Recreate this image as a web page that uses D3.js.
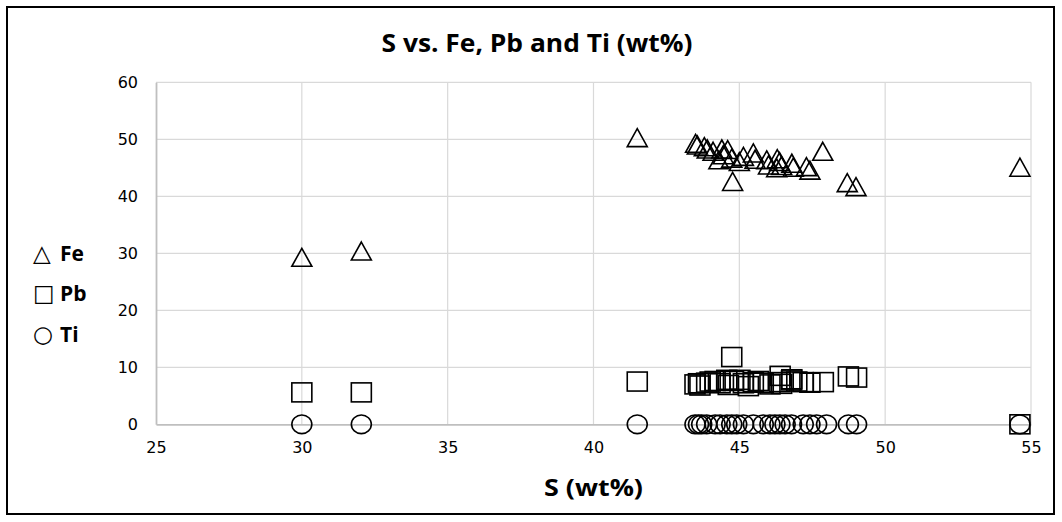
<!DOCTYPE html>
<html>
<head>
<meta charset="utf-8">
<script src="https://cdn.jsdelivr.net/npm/d3@7"></script>
<style>
  html, body { margin: 0; padding: 0; background: #fff; }
  svg { display: block; }
</style>
</head>
<body>
<svg id="chart" width="1062" height="522"></svg>
<script>
// ---- Data ----
const title = "S vs. Fe, Pb and Ti (wt%)";
const xTitle = "S (wt%)";
const xTicks = [25, 30, 35, 40, 45, 50, 55];
const yTicks = [0, 10, 20, 30, 40, 50, 60];

const feS = [30, 32.04, 41.5, 43.5, 43.56, 43.8, 43.9, 44.1, 44.4, 44.6, 44.45, 44.3, 44.74, 44.77, 45.0, 45.14, 45.48, 45.54, 45.94, 46.0, 46.3, 46.38, 46.45, 46.28, 46.8, 46.85, 47.3, 47.42, 47.86, 48.7, 49.0, 54.62];
const feV = [29.3, 30.4, 50.3, 49.3, 49.0, 48.7, 48.3, 47.9, 48.3, 48.2, 47.3, 46.4, 46.7, 42.6, 46.1, 47.0, 47.6, 46.5, 46.4, 45.5, 46.6, 46.1, 45.4, 45.0, 45.8, 45.1, 45.2, 44.6, 47.9, 42.4, 41.7, 45.1];

const pbS = [30, 32.04, 41.5, 44.74, 43.48, 43.6, 43.65, 43.88, 44.0, 44.17, 44.34, 44.57, 44.62, 44.8, 45.02, 45.14, 45.31, 45.48, 45.65, 45.82, 46.05, 46.4, 46.39, 46.45, 46.8, 46.79, 46.97, 47.19, 47.42, 47.88, 48.74, 49.02, 54.62];
const pbV = [5.6, 5.6, 7.5, 11.8, 7.0, 7.2, 6.8, 7.3, 7.5, 7.6, 7.2, 7.8, 6.9, 7.6, 7.8, 7.2, 6.7, 7.4, 7.6, 7.3, 7.0, 8.5, 7.4, 7.1, 7.9, 7.7, 7.5, 7.4, 7.3, 7.4, 8.4, 8.2, 0];

const tiS = [30, 32.04, 41.5, 43.48, 43.6, 43.71, 43.88, 44.17, 44.34, 44.57, 44.74, 44.91, 45.14, 45.48, 45.82, 46.05, 46.22, 46.39, 46.57, 46.79, 47.19, 47.42, 47.65, 47.99, 48.74, 49.02, 54.62];
const tiV = [0, 0, 0, 0, 0, 0, 0, 0, 0, 0, 0, 0, 0, 0, 0, 0, 0, 0, 0, 0, 0, 0, 0, 0, 0, 0, 0];

const legendLabels = ["Fe", "Pb", "Ti"];
const legendSymbols = ["\u25B3", "\u25A1", "\u25CB"];

// ---- Drawing ----
const svg = d3.select("#chart");
const W = 1062, H = 522;
const plot = { left: 156, right: 1031, top: 82.3, bottom: 424.3 };

svg.append("rect").attr("x", 0).attr("y", 0).attr("width", W).attr("height", H).attr("fill", "#fff");
svg.append("rect").attr("x", 7).attr("y", 7).attr("width", 1047).attr("height", 507)
  .attr("fill", "#fff").attr("stroke", "#000").attr("stroke-width", 2);

const x = d3.scaleLinear().domain([25, 55]).range([plot.left, plot.right]);
const y = d3.scaleLinear().domain([0, 60]).range([plot.bottom, plot.top]);

// gridlines
svg.append("g").selectAll("line").data(yTicks.filter(d => d > 0)).join("line")
  .attr("x1", plot.left).attr("x2", plot.right)
  .attr("y1", d => y(d)).attr("y2", d => y(d))
  .attr("stroke", "#d9d9d9").attr("stroke-width", 1.2);
svg.append("g").selectAll("line").data(xTicks.filter(d => d > 25)).join("line")
  .attr("x1", d => x(d)).attr("x2", d => x(d))
  .attr("y1", plot.top).attr("y2", plot.bottom)
  .attr("stroke", "#d9d9d9").attr("stroke-width", 1.2);

// axes
const xAxis = d3.axisBottom(x).tickValues(xTicks).tickSize(0).tickPadding(17);
const gx = svg.append("g").attr("transform", `translate(0,${plot.bottom})`).call(xAxis);
gx.select(".domain").attr("stroke", "#bfbfbf").attr("stroke-width", 1.8);
gx.selectAll("text").attr("font-family", "DejaVu Sans").attr("font-size", 16).attr("fill", "#000");

const yAxis = d3.axisLeft(y).tickValues(yTicks).tickSize(0).tickPadding(18);
const gy = svg.append("g").attr("transform", `translate(${plot.left},0)`).call(yAxis);
gy.select(".domain").attr("stroke", "#bfbfbf").attr("stroke-width", 1.8);
gy.selectAll("text").attr("font-family", "DejaVu Sans").attr("font-size", 16).attr("fill", "#000");

// markers
function triPath() {
  const h = 18, w = 20;
  return `M0,${-h/2}L${w/2},${h/2}L${-w/2},${h/2}Z`;
}
const marks = svg.append("g").attr("fill", "none").attr("stroke", "#000").attr("stroke-width", 1.6);

marks.append("g").selectAll("path").data(feS.map((s, i) => [s, feV[i]])).join("path")
  .attr("d", triPath())
  .attr("transform", d => `translate(${x(d[0])},${y(d[1])})`);

marks.append("g").selectAll("rect").data(pbS.map((s, i) => [s, pbV[i]])).join("rect")
  .attr("x", d => x(d[0]) - 10).attr("y", d => y(d[1]) - 9.5)
  .attr("width", 20).attr("height", 19);

marks.append("g").selectAll("ellipse").data(tiS.map((s, i) => [s, tiV[i]])).join("ellipse")
  .attr("cx", d => x(d[0])).attr("cy", d => y(d[1]))
  .attr("rx", 10).attr("ry", 9.3);

// titles
svg.append("text").attr("x", 537).attr("y", 52).attr("text-anchor", "middle")
  .attr("font-family", "Open Sans, sans-serif")
  .attr("font-weight", "bold").attr("font-size", 25)
  .attr("textLength", 311).attr("lengthAdjust", "spacingAndGlyphs")
  .text(title);

svg.append("text").attr("x", (plot.left + plot.right) / 2).attr("y", 496).attr("text-anchor", "middle")
  .attr("font-family", "Open Sans, sans-serif")
  .attr("font-weight", "bold").attr("font-size", 24)
  .attr("textLength", 99).attr("lengthAdjust", "spacingAndGlyphs")
  .text(xTitle);

// legend
const legY = [261, 301, 342];
const leg = svg.append("g");
legendLabels.forEach((lab, i) => {
  leg.append("text").attr("x", 33).attr("y", legY[i])
    .attr("font-family", "DejaVu Sans").attr("font-size", 23).attr("fill", "#000")
    .text(legendSymbols[i]);
  leg.append("text").attr("x", 60).attr("y", legY[i])
    .attr("font-family", "Open Sans, sans-serif").attr("font-weight", "bold").attr("font-size", 21).attr("fill", "#000")
    .text(lab);
});
</script>
</body>
</html>
